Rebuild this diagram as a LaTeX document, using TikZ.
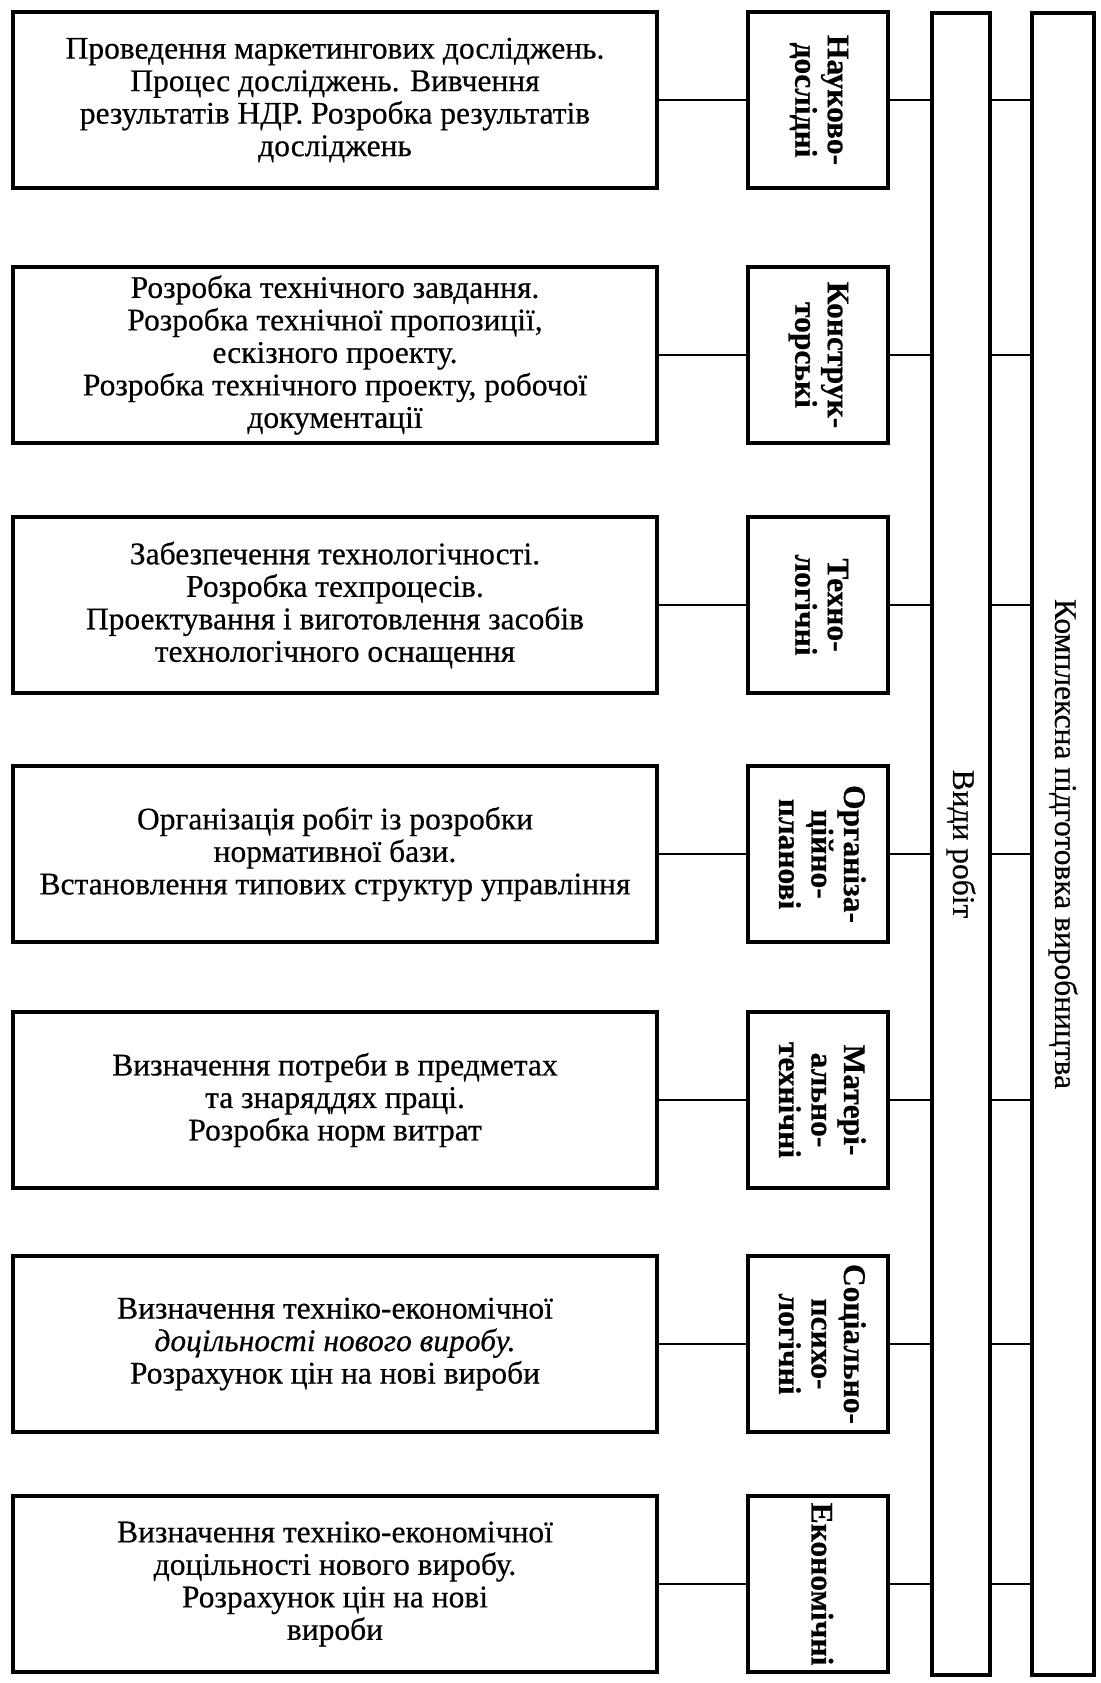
\documentclass[tikz,border=0pt]{standalone}
\usepackage{fontspec}
\setmainfont{Liberation Serif}[FakeBold=0.5]
\newcommand\mainfs{\fontsize{31.5}{32.5}\selectfont}
\newcommand\tagfs{\fontsize{31.5}{32.5}\selectfont\bfseries}
\newcommand\colfs{\fontsize{31.5}{32.5}\selectfont}
\newcommand\vtext[1]{\rotatebox{-90}{\begin{tabular}{@{}c@{}}#1\end{tabular}}}
\begin{document}
\begin{tikzpicture}[x=1pt,y=-1pt,
  box/.style={draw, line width=3.5pt, minimum width=644pt, minimum height=176pt,
    inner sep=0pt, align=center, font=\mainfs},
  tag/.style={draw, line width=3.5pt, minimum width=140pt, minimum height=176pt,
    inner sep=0pt, font=\tagfs},
  col/.style={draw, line width=3.5pt, minimum height=1662pt, inner sep=0pt, font=\colfs},
  link/.style={line width=2.2pt}]
\fill[white] (0,0) rectangle (1100,1683);
\useasboundingbox (0,0) rectangle (1100,1683);

\node[box] (b1) at (335,100) {Проведення маркетингових досліджень.\\ Процес досліджень. Вивчення\\ результатів НДР. Розробка результатів\\ досліджень};
\node[box] (b2) at (335,355) {Розробка технічного завдання.\\ Розробка технічної пропозиції,\\ ескізного проекту.\\ Розробка технічного проекту, робочої\\ документації};
\node[box] (b3) at (335,605) {Забезпечення технологічності.\\ Розробка техпроцесів.\\ Проектування і виготовлення засобів\\ технологічного оснащення};
\node[box] (b4) at (335,854) {Організація робіт із розробки\\ нормативної бази.\\ Встановлення типових структур управління};
\node[box] (b5) at (335,1100) {Визначення потреби в предметах\\ та знаряддях праці.\\ Розробка норм витрат};
\node[box] (b6) at (335,1344) {Визначення техніко-економічної\\ \textit{доцільності нового виробу.}\\ Розрахунок цін на нові вироби};
\node[box] (b7) at (335,1584) {Визначення техніко-економічної\\ доцільності нового виробу.\\ Розрахунок цін на нові\\ вироби};

\node[tag] (t1) at (818,100) {\vtext{Науково-\\дослідні}};
\node[tag] (t2) at (818,355) {\vtext{Конструк-\\торські}};
\node[tag] (t3) at (818,605) {\vtext{Техно-\\логічні}};
\node[tag] (t4) at (818,854) {\vtext{Організа-\\ційно-\\планові}};
\node[tag] (t5) at (818,1100) {\vtext{Матері-\\ально-\\технічні}};
\node[tag] (t6) at (818,1344) {\vtext{Соціально-\\психо-\\логічні}};
\node[tag] (t7) at (818,1584) {\vtext{Економічні}};

\node[col, minimum width=58pt] (vr) at (961,844) {\rotatebox{-90}{Види робіт}};
\node[col, minimum width=62pt] (kp) at (1063,844) {\rotatebox{-90}{Комплексна підготовка виробництва}};

\foreach \i in {1,...,7} {
  \draw[link] (b\i.east) -- (t\i.west);
  \draw[link] (t\i.east) -- (t\i.east -| vr.west);
  \draw[link] (t\i.east -| vr.east) -- (t\i.east -| kp.west);
}
\end{tikzpicture}
\end{document}
